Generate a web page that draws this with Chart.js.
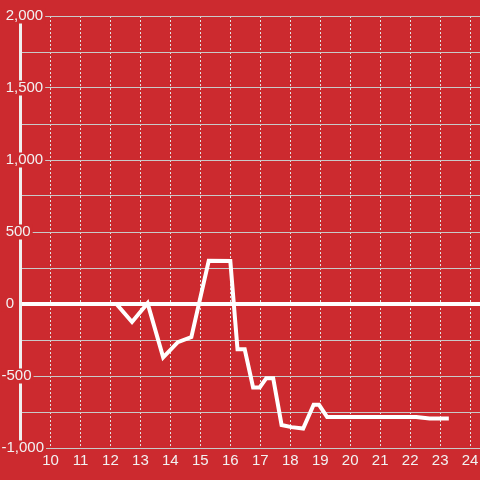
<!DOCTYPE html>
<html>
<head>
<meta charset="utf-8">
<script src="https://cdn.jsdelivr.net/npm/chart.js"></script>
<style>
  html, body { margin: 0; padding: 0; background: #cc2a2f; }
  #wrap { width: 480px; height: 480px; }
</style>
</head>
<body>
<div id="wrap"><canvas id="chart"></canvas></div>
<script>
// Series values (x = hour, y = value)
const xValues = [10, 12.2, 12.72, 13.24, 13.76, 14.25, 14.7, 15.28, 16.0, 16.24, 16.48, 16.76, 16.98, 17.2, 17.43, 17.71, 18.04, 18.43, 18.78, 18.96, 19.23, 22.2, 22.65, 23.29];
const yValues = [0, 0, -125, 5, -370, -265, -230, 300, 298, -315, -315, -580, -580, -515, -515, -840, -855, -865, -700, -700, -785, -785, -795, -795];

// Tick values
const xTicks = [10, 11, 12, 13, 14, 15, 16, 17, 18, 19, 20, 21, 22, 23, 24];
const yTicks = [-1000, -750, -500, -250, 0, 250, 500, 750, 1000, 1250, 1500, 1750, 2000];
const yLabelValues = [-1000, -500, 0, 500, 1000, 1500, 2000];

const bg = '#cc2a2f';
const font = { family: "'Liberation Sans', Arial, sans-serif", size: 15, lineHeight: 1 };

function formatY(v) {
  if (!yLabelValues.includes(v)) return '';
  const s = Math.abs(v).toLocaleString('en-US');
  return v < 0 ? '-' + s : ' ' + s;
}

const ctx = document.getElementById('chart').getContext('2d');
new Chart(ctx, {
  type: 'line',
  data: {
    datasets: [{
      data: xValues.map((x, i) => ({ x: x, y: yValues[i] })),
      borderColor: '#ffffff',
      borderWidth: 4,
      pointRadius: 0,
      tension: 0,
      fill: false
    }]
  },
  options: {
    responsive: true,
    maintainAspectRatio: false,
    animation: false,
    layout: { padding: { left: 1.5, top: 16, right: 0, bottom: 0 } },
    plugins: { legend: { display: false }, tooltip: { enabled: false } },
    scales: {
      x: {
        type: 'linear',
        min: 9,
        max: 24.33,
        afterBuildTicks: s => { s.ticks = xTicks.map(v => ({ value: v })); },
        afterFit: s => { s.height = 32; },
        grid: { color: '#e2e2e2', lineWidth: 1, drawTicks: true, tickLength: 5, tickColor: 'transparent' },
        border: { display: false, dash: [2, 2] },
        ticks: { color: '#f2f2f2', font: font, padding: 0, maxRotation: 0, autoSkip: false }
      },
      y: {
        min: -1000,
        max: 2000,
        afterBuildTicks: s => { s.ticks = yTicks.map(v => ({ value: v })); },
        afterFit: s => { s.width = 19; },
        grid: {
          drawTicks: false,
          color: c => c.tick && c.tick.value === 0 ? '#ffffff' : '#c9c9c9',
          lineWidth: c => c.tick && c.tick.value === 0 ? 4 : 1
        },
        border: { display: true, color: '#f0f0f0', width: 3 },
        ticks: {
          color: '#f2f2f2',
          font: font,
          mirror: true,
          padding: -19,
          autoSkip: false,
          callback: v => formatY(v),
          showLabelBackdrop: true,
          backdropColor: c => yLabelValues.includes(c.tick.value) ? bg : 'transparent',
          backdropPadding: { top: 0, bottom: 0, left: 0, right: 2 }
        }
      }
    }
  }
});
</script>
</body>
</html>
